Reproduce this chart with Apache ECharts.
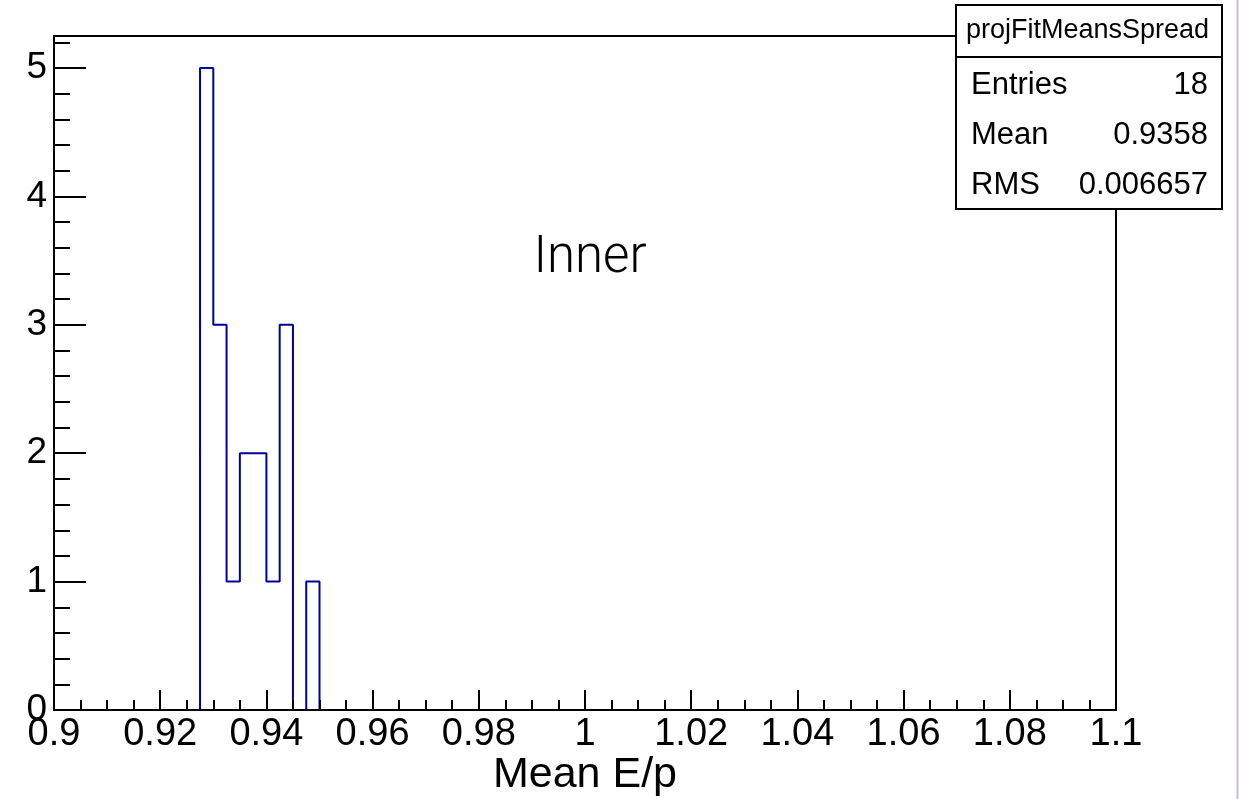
<!DOCTYPE html>
<html>
<head>
<meta charset="utf-8">
<script src="https://cdn.jsdelivr.net/npm/echarts@6/dist/echarts.min.js"></script>
<style>
  html, body { margin: 0; padding: 0; background: #fff; }
  #chart1 { width: 1239px; height: 799px; }
</style>
</head>
<body>
<div id="chart1"></div>
<script>
// bin low edges (last value is the upper edge of the last filled bin)
var binEdges = [0.9275, 0.93, 0.9325, 0.935, 0.9375, 0.94, 0.9425, 0.945, 0.9475, 0.95];
var binCounts = [5, 3, 1, 2, 2, 1, 3, 0, 1];
var xRange = [0.9, 1.1];
var yRange = [0, 5.25];
var statsTitle = 'projFitMeansSpread';
var statsNames = ['Entries', 'Mean', 'RMS'];
var statsValues = ['18', '0.9358', '0.006657'];

var font = 'Liberation Sans, Arial, Helvetica, sans-serif';

// step outline of the histogram
var histData = [[xRange[0], 0]];
for (var i = 0; i < binCounts.length; i++) {
    histData.push([binEdges[i], binCounts[i]]);
}
histData.push([binEdges[binEdges.length - 1], 0]);
histData.push([xRange[1], 0]);

var chart = echarts.init(document.getElementById('chart1'));

var statsGraphics = [{
    type: 'rect', z: 100,
    shape: { x: 956, y: 5, width: 266, height: 204 },
    style: { fill: '#fff', stroke: '#000', lineWidth: 2 }
}, {
    type: 'line', z: 101,
    shape: { x1: 956, y1: 57, x2: 1222, y2: 57 },
    style: { stroke: '#000', lineWidth: 2 }
}, {
    type: 'text', z: 101, x: 966, y: 31,
    style: { text: statsTitle, font: '27px ' + font, fill: '#000', textVerticalAlign: 'middle' }
}];
statsNames.forEach(function (name, k) {
    var y = 85 + k * 50;
    statsGraphics.push({
        type: 'text', z: 101, x: 971, y: y,
        style: { text: name, font: '31px ' + font, fill: '#000', textVerticalAlign: 'middle' }
    });
    statsGraphics.push({
        type: 'text', z: 101, x: 1208, y: y,
        style: { text: statsValues[k], font: '31px ' + font, fill: '#000', textAlign: 'right', textVerticalAlign: 'middle' }
    });
});

var option = {
    animation: false,
    backgroundColor: '#fff',
    grid: {
        left: 54, right: 123, top: 36, bottom: 89,
        outerBoundsMode: 'none',
        show: true, borderColor: '#000', borderWidth: 2
    },
    xAxis: {
        type: 'value',
        min: xRange[0], max: xRange[1], interval: 0.02,
        z: 5,
        name: 'Mean E/p',
        nameLocation: 'middle',
        nameGap: 44,
        nameMoveOverlap: false,
        nameTextStyle: { fontSize: 43, fontFamily: font, color: '#000' },
        axisLine: { lineStyle: { color: '#000', width: 2 } },
        axisTick: { inside: true, length: 20, lineStyle: { color: '#000', width: 2 } },
        minorTick: { show: true, splitNumber: 4, length: 10, lineStyle: { color: '#000', width: 2 } },
        axisLabel: { fontSize: 38, fontFamily: font, color: '#000', margin: 6 },
        splitLine: { show: false }
    },
    yAxis: [{
        type: 'value',
        min: yRange[0], max: yRange[1], interval: 1,
        z: 5,
        axisLine: { show: true, lineStyle: { color: '#000', width: 2 } },
        axisTick: { inside: true, length: 32, lineStyle: { color: '#000', width: 2 } },
        axisLabel: {
            fontSize: 37, fontFamily: font, color: '#000', margin: 7,
            formatter: function (v) { return v % 1 === 0 ? String(v) : ''; }
        },
        splitLine: { show: false }
    }, {
        type: 'value',
        position: 'left',
        min: yRange[0], max: yRange[1], interval: 0.2,
        z: 5,
        axisLine: { show: false },
        axisTick: { inside: true, length: 16, lineStyle: { color: '#000', width: 2 } },
        axisLabel: { show: false },
        splitLine: { show: false }
    }],
    series: [{
        type: 'line',
        step: 'end',
        symbol: 'none',
        data: histData,
        lineStyle: { color: '#0000a0', width: 2 }
    }],
    graphic: statsGraphics.concat([{
        type: 'text', z: 50, x: 590, y: 259,
        style: { text: 'Inner', font: '300 51px Roboto, ' + font, fill: '#000', textAlign: 'center', textVerticalAlign: 'middle' }
    }, {
        type: 'line', z: 50,
        shape: { x1: 1237.5, y1: 0, x2: 1237.5, y2: 799 },
        style: { stroke: '#c8b6e2', lineWidth: 2 }
    }])
};

chart.setOption(option);
</script>
</body>
</html>
